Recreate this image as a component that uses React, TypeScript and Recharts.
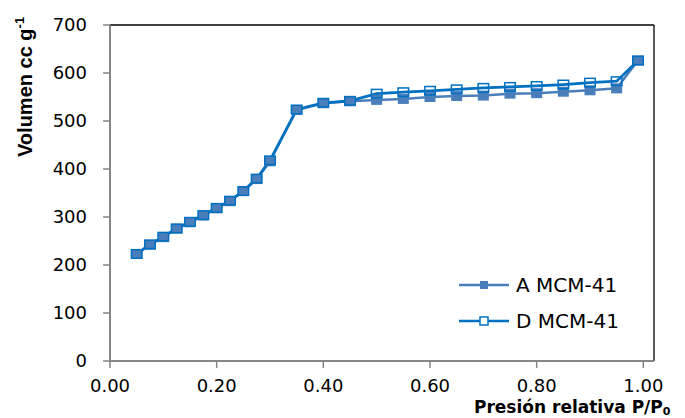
import { LineChart, Line, XAxis, YAxis, ReferenceLine } from 'recharts';

// P/P0 de cada punto de la isoterma
const pressure = [
  0.05, 0.075, 0.1, 0.125, 0.15, 0.175, 0.2, 0.225, 0.25, 0.275, 0.3, 0.35, 0.4,
  0.45, 0.5, 0.55, 0.6, 0.65, 0.7, 0.75, 0.8, 0.85, 0.9, 0.95, 0.99,
];

// volumen adsorbido, cc/g
const volumeA = [
  223, 242, 258, 276, 289, 303, 318, 333, 354, 379, 416, 523, 537, 541, 544,
  546, 550, 552, 553, 557, 558, 561, 564, 568, 626,
];
const volumeD = [
  223, 243, 259, 276, 290, 304, 319, 334, 354, 380, 418, 524, 538, 542, 557,
  560, 563, 566, 569, 571, 573, 576, 580, 583, 626,
];

const xTicks = [0, 0.2, 0.4, 0.6, 0.8, 1.0];
const yTicks = [0, 100, 200, 300, 400, 500, 600, 700];

const seriesA = pressure.map((p, i) => ({ p, v: volumeA[i] }));
const seriesD = pressure.map((p, i) => ({ p, v: volumeD[i] }));

const BLUE_A = '#4A7EBB';
const BLUE_D = '#0070C0';
const AXIS = '#868686';
const FONT = '"DejaVu Sans", sans-serif';

const FilledSquare = (props: any) => {
  const { cx, cy, index } = props;
  if (cx == null || cy == null) return null;
  return <rect key={`a-${index}`} x={cx - 5.5} y={cy - 5} width={11} height={10} fill={BLUE_A} />;
};

const HollowSquare = (props: any) => {
  const { cx, cy, index } = props;
  if (cx == null || cy == null) return null;
  return (
    <rect
      key={`d-${index}`}
      x={cx - 5.25}
      y={cy - 4.25}
      width={10.5}
      height={8.5}
      fill="none"
      stroke={BLUE_D}
      strokeWidth={1.5}
    />
  );
};

const legendItems = [
  { name: 'A MCM-41', color: BLUE_A, filled: true },
  { name: 'D MCM-41', color: BLUE_D, filled: false },
];

export default function App() {
  return (
    <div style={{ position: 'absolute', left: 0, top: 0, width: 685, height: 418 }}>
      <LineChart width={685} height={418} margin={{ top: 25, right: 31, left: 0, bottom: 0 }}>
        <XAxis
          type="number"
          dataKey="p"
          domain={[0, 1.02]}
          ticks={xTicks}
          interval={0}
          tickFormatter={(v: number) => v.toFixed(2)}
          height={57}
          tickSize={7}
          tickMargin={11}
          axisLine={{ stroke: AXIS, strokeWidth: 2 }}
          tickLine={{ stroke: AXIS, strokeWidth: 1.5 }}
          tick={{ fill: '#000', fontSize: 18, fontFamily: FONT }}
        />
        <YAxis
          type="number"
          domain={[0, 700]}
          ticks={yTicks}
          interval={0}
          width={110}
          tickSize={7}
          tickMargin={16}
          axisLine={{ stroke: AXIS, strokeWidth: 2 }}
          tickLine={{ stroke: AXIS, strokeWidth: 1.5 }}
          tick={{ fill: '#000', fontSize: 18, fontFamily: FONT }}
        />
        <ReferenceLine x={1.02} stroke="#000" strokeWidth={1.3} />
        <ReferenceLine y={700} stroke="#000" strokeWidth={1.3} />
        <Line
          data={seriesA}
          dataKey="v"
          type="linear"
          stroke={BLUE_A}
          strokeWidth={2.5}
          dot={FilledSquare}
          activeDot={false}
          isAnimationActive={false}
        />
        <Line
          data={seriesD}
          dataKey="v"
          type="linear"
          stroke={BLUE_D}
          strokeWidth={2.75}
          dot={HollowSquare}
          activeDot={false}
          isAnimationActive={false}
        />
      </LineChart>

      {/* títulos de los ejes */}
      <svg
        width={685}
        height={418}
        style={{ position: 'absolute', left: 0, top: 0, pointerEvents: 'none' }}
      >
        <text
          transform="translate(31.5,157) rotate(-90)"
          fontFamily='"Liberation Sans", sans-serif'
          fontWeight="bold"
          fontSize={20}
          fill="#000"
        >
          Volumen cc g
          <tspan dy={-8} fontSize={13}>
            -1
          </tspan>
        </text>
        <text x={474} y={412.5} fontFamily={FONT} fontWeight="bold" fontSize={17} fill="#000">
          Presión relativa P/P
          <tspan dy={2.5} fontSize={11}>
            0
          </tspan>
        </text>
      </svg>

      {/* leyenda */}
      {legendItems.map((item, i) => (
        <div
          key={item.name}
          style={{
            position: 'absolute',
            left: 459,
            top: 273 + i * 36,
            height: 24,
            display: 'flex',
            alignItems: 'center',
            fontFamily: FONT,
            fontSize: 20,
            lineHeight: '24px',
            color: '#000',
            whiteSpace: 'nowrap',
          }}
        >
          <svg width={50} height={24}>
            <line x1={0} y1={12} x2={50} y2={12} stroke={item.color} strokeWidth={2.5} />
            {item.filled ? (
              <rect x={21} y={8} width={8} height={8} fill={item.color} />
            ) : (
              <rect x={21} y={8} width={8} height={8} fill="#fff" stroke={item.color} strokeWidth={1.5} />
            )}
          </svg>
          <span style={{ marginLeft: 7 }}>{item.name}</span>
        </div>
      ))}
    </div>
  );
}
